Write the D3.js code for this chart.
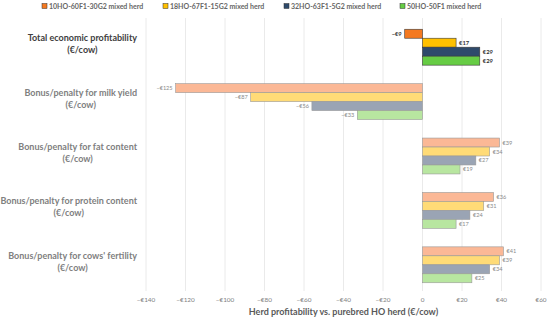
<!DOCTYPE html>
<html lang="en">
<head>
<meta charset="UTF-8">
<title>Herd profitability</title>
<script src="https://d3js.org/d3.v7.min.js"></script>
<style>
  body { margin: 0; background: #fff; }
  text { font-family: Lato, "Open Sans", sans-serif; }
</style>
</head>
<body>
<script>
// data
const categories = [
  ["Total economic profitability", "(€/cow)"],
  ["Bonus/penalty for milk yield", "(€/cow)"],
  ["Bonus/penalty for fat content", "(€/cow)"],
  ["Bonus/penalty for protein content", "(€/cow)"],
  ["Bonus/penalty for cows' fertility", "(€/cow)"]
];
const seriesNames = ["10HO-60F1-30G2 mixed herd", "18HO-67F1-15G2 mixed herd", "32HO-63F1-5G2 mixed herd", "50HO-50F1 mixed herd"];
const herd10 = [-9, -125, 39, 36, 41];
const herd18 = [17, -87, 34, 31, 39];
const herd32 = [29, -56, 27, 24, 34];
const herd50 = [29, -33, 19, 17, 25];
const xTicks = [-140, -120, -100, -80, -60, -40, -20, 0, 20, 40, 60];

const series = [herd10, herd18, herd32, herd50];
const strong = ["#F47920", "#FFC000", "#2E4A6B", "#66CC44"];
const light = ["#FBB896", "#FFDB77", "#9AA4B4", "#B8E6A0"];

const W = 550, H = 321;
const svg = d3.select("body").append("svg").attr("width", W).attr("height", H);

const x = d3.scaleLinear().domain([-140, 60]).range([146, 541]);
const y = d3.scaleBand().domain(d3.range(categories.length)).range([20, 292]).paddingInner(0.34).paddingOuter(0.17);
const yi = d3.scaleBand().domain(d3.range(4)).range([0, y.bandwidth()]);

// grid
svg.append("g").selectAll("line").data(xTicks).join("line")
  .attr("x1", d => x(d)).attr("x2", d => x(d))
  .attr("y1", 18).attr("y2", 291)
  .attr("stroke", "#e4e4e4").attr("stroke-width", 0.8);

// tick labels
const fmt = d => d === 0 ? "0" : (d < 0 ? "\u2212€" + (-d) : "€" + d);
svg.append("g").selectAll("text").data(xTicks).join("text")
  .attr("x", d => x(d)).attr("y", 302)
  .attr("text-anchor", "middle").attr("font-size", 6.4).attr("fill", "#7f7f7f")
  .text(fmt);

svg.append("text").attr("x", x(-40)).attr("y", 315).attr("text-anchor", "middle")
  .attr("font-size", 9).attr("font-weight", "bold").attr("fill", "#595959")
  .text("Herd profitability vs. purebred HO herd (€/cow)");

// bars
categories.forEach((cat, ci) => {
  const g = svg.append("g");
  series.forEach((s, si) => {
    const v = s[ci];
    const y0 = y(ci) + yi(si);
    const first = ci === 0;
    g.append("rect")
      .attr("x", x(Math.min(0, v))).attr("y", y0)
      .attr("width", Math.abs(x(v) - x(0))).attr("height", yi.bandwidth())
      .attr("fill", first ? strong[si] : light[si])
      .attr("stroke", first ? "#3a3a3a" : "#999").attr("stroke-width", 0.6);
    g.append("text")
      .attr("x", v < 0 ? x(v) - 3 : x(v) + 3)
      .attr("y", y0 + yi.bandwidth() / 2 + 2)
      .attr("text-anchor", v < 0 ? "end" : "start")
      .attr("font-size", first ? 5.8 : 5.6)
      .attr("font-weight", first ? "bold" : "normal")
      .attr("fill", first ? "#333" : "#8a8a8a")
      .text(fmt(v));
  });
  // category label
  const cy = y(ci) + y.bandwidth() / 2;
  const t = svg.append("text").attr("text-anchor", "middle")
    .attr("font-size", 9).attr("font-weight", "bold")
    .attr("fill", ci === 0 ? "#404040" : "#808080");
  const lx = 137;
  t.append("tspan").attr("x", lx).attr("text-anchor", "end").attr("y", cy - 6).text(cat[0]);
  t.append("tspan").attr("x", lx - d3.select(t.node()).select("tspan").node().getComputedTextLength() / 2)
    .attr("text-anchor", "middle").attr("y", cy + 6).text(cat[1]);
});

// legend
const legX = [42, 163, 284, 400];
const leg = svg.append("g");
seriesNames.forEach((n, i) => {
  leg.append("rect").attr("x", legX[i]).attr("y", 3.5).attr("width", 5).attr("height", 5)
    .attr("fill", strong[i]).attr("stroke", "#333").attr("stroke-width", 0.5);
  leg.append("text").attr("x", legX[i] + 7).attr("y", 8.8)
    .attr("font-size", 7).attr("font-weight", "bold").attr("fill", "#666").text(n);
});
</script>
</body>
</html>
